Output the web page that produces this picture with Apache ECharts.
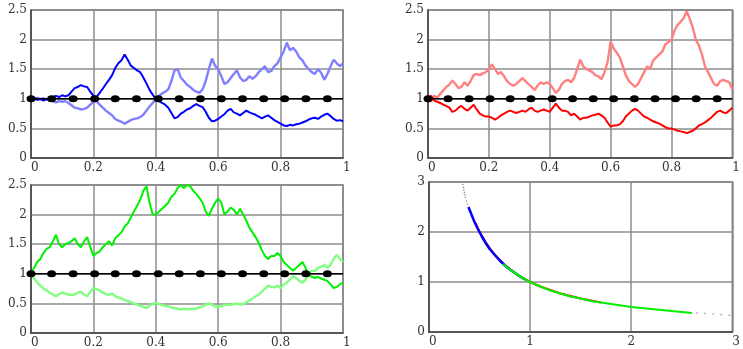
<!DOCTYPE html>
<html>
<head>
<meta charset="utf-8">
<script src="https://cdn.jsdelivr.net/npm/echarts@6/dist/echarts.min.js"></script>
<style>
  html, body { margin: 0; padding: 0; background: #fff; }
  #chart { width: 743px; height: 349px; }
</style>
</head>
<body>
<div id="chart"></div>
<script>
// Sample paths, one value per step of 0.01 on [0, 1]
const blueDark = [1.00,1.02,0.98,1.00,0.97,1.00,0.98,1.03,1.05,1.03,1.06,1.04,1.06,1.12,1.18,1.20,1.23,1.21,1.20,1.12,
  1.05,1.03,1.10,1.17,1.25,1.32,1.40,1.52,1.60,1.65,1.75,1.66,1.56,1.52,1.48,1.45,1.36,1.26,1.15,1.07,
  1.00,0.96,0.93,0.90,0.85,0.76,0.67,0.69,0.75,0.78,0.82,0.84,0.88,0.91,0.88,0.86,0.78,0.68,0.62,0.63,
  0.66,0.70,0.74,0.80,0.83,0.77,0.75,0.72,0.76,0.80,0.77,0.75,0.73,0.70,0.67,0.70,0.72,0.68,0.64,0.61,
  0.58,0.55,0.54,0.56,0.55,0.57,0.58,0.60,0.62,0.65,0.67,0.68,0.66,0.70,0.73,0.75,0.71,0.66,0.63,0.64,0.62];
const blueLight = [1.00,0.98,1.02,0.99,1.01,0.98,1.00,0.96,0.94,0.96,0.95,0.96,0.93,0.89,0.85,0.84,0.82,0.83,0.85,0.90,
  0.95,0.96,0.90,0.85,0.80,0.76,0.72,0.66,0.63,0.61,0.58,0.61,0.64,0.66,0.67,0.69,0.73,0.80,0.87,0.93,
  1.00,1.05,1.09,1.12,1.16,1.30,1.48,1.50,1.36,1.30,1.24,1.20,1.15,1.12,1.10,1.16,1.30,1.50,1.68,1.56,
  1.50,1.38,1.25,1.28,1.35,1.42,1.48,1.36,1.30,1.32,1.38,1.34,1.38,1.45,1.50,1.55,1.45,1.47,1.55,1.60,
  1.70,1.80,1.95,1.82,1.86,1.80,1.70,1.65,1.56,1.50,1.45,1.42,1.50,1.44,1.32,1.42,1.55,1.66,1.60,1.55,1.60];
const redLight = [1.00,0.95,1.05,1.02,1.08,1.14,1.20,1.24,1.31,1.25,1.18,1.20,1.28,1.22,1.30,1.40,1.42,1.40,1.43,1.45,
  1.50,1.58,1.50,1.42,1.45,1.38,1.30,1.25,1.22,1.25,1.30,1.35,1.30,1.25,1.20,1.15,1.22,1.28,1.25,1.28,
  1.25,1.18,1.10,1.15,1.25,1.30,1.32,1.28,1.35,1.50,1.66,1.55,1.50,1.48,1.45,1.40,1.38,1.33,1.45,1.62,
  1.97,1.85,1.78,1.70,1.55,1.40,1.30,1.25,1.20,1.25,1.35,1.45,1.55,1.50,1.65,1.70,1.75,1.80,1.92,1.96,
  2.00,2.15,2.25,2.30,2.36,2.48,2.35,2.20,2.00,1.90,1.75,1.55,1.45,1.35,1.25,1.22,1.30,1.32,1.30,1.28,1.15];
const redDark = [1.00,1.05,0.97,0.95,0.93,0.90,0.88,0.85,0.78,0.80,0.85,0.88,0.83,0.80,0.85,0.90,0.82,0.75,0.72,0.70,
  0.70,0.68,0.65,0.68,0.72,0.75,0.78,0.80,0.78,0.76,0.78,0.80,0.78,0.82,0.85,0.80,0.78,0.80,0.82,0.80,
  0.78,0.85,0.92,0.85,0.80,0.80,0.78,0.72,0.75,0.70,0.65,0.68,0.68,0.70,0.72,0.73,0.75,0.72,0.68,0.60,
  0.53,0.55,0.55,0.57,0.62,0.70,0.75,0.80,0.83,0.80,0.75,0.70,0.68,0.65,0.62,0.60,0.58,0.55,0.52,0.50,
  0.50,0.48,0.46,0.45,0.44,0.42,0.44,0.46,0.50,0.55,0.57,0.60,0.64,0.68,0.73,0.78,0.80,0.77,0.76,0.80,0.85];
const greenBright = [1.00,1.10,1.20,1.25,1.35,1.42,1.45,1.55,1.66,1.50,1.45,1.50,1.52,1.55,1.60,1.50,1.45,1.55,1.62,1.45,
  1.30,1.35,1.38,1.45,1.50,1.55,1.48,1.60,1.65,1.70,1.80,1.85,1.95,2.05,2.15,2.25,2.40,2.48,2.20,2.00,
  2.00,2.05,2.10,2.15,2.20,2.30,2.35,2.45,2.50,2.45,2.50,2.48,2.40,2.35,2.28,2.20,2.05,1.98,2.10,2.20,
  2.27,2.20,2.00,2.05,2.12,2.08,2.00,2.10,2.00,1.90,1.78,1.70,1.62,1.52,1.40,1.30,1.25,1.30,1.30,1.35,
  1.30,1.20,1.15,1.10,1.05,1.10,1.15,1.20,1.10,0.98,0.95,0.93,0.95,0.92,0.90,0.88,0.82,0.76,0.78,0.82,0.85];
const greenLight = [1.00,0.92,0.85,0.80,0.75,0.72,0.68,0.65,0.62,0.66,0.68,0.67,0.65,0.64,0.65,0.68,0.70,0.65,0.62,0.70,
  0.76,0.74,0.72,0.68,0.66,0.64,0.67,0.62,0.60,0.58,0.56,0.54,0.52,0.50,0.48,0.46,0.44,0.42,0.46,0.50,
  0.50,0.49,0.47,0.46,0.45,0.43,0.42,0.41,0.40,0.41,0.40,0.40,0.41,0.41,0.43,0.45,0.48,0.50,0.48,0.45,
  0.44,0.45,0.48,0.48,0.47,0.49,0.50,0.48,0.49,0.52,0.55,0.58,0.62,0.65,0.70,0.75,0.80,0.78,0.77,0.80,
  0.76,0.82,0.85,0.90,0.96,0.93,0.88,0.85,0.90,1.00,1.05,1.05,1.10,1.12,1.15,1.10,1.15,1.25,1.32,1.25,1.20];

// Reference level and its marker positions
const levelValue = 1;
const markerX = [0,0.066,0.135,0.204,0.27,0.338,0.408,0.475,0.543,0.61,0.678,0.746,0.813,0.881,0.95];

// Phase-plane curve pieces (x, y pairs)
const curveBlueX = [0.39,0.42,0.45,0.48,0.52,0.56,0.60,0.65,0.70,0.75,0.80,0.85,0.90,0.95];
const curveBlueY = [2.50,2.35,2.20,2.07,1.92,1.78,1.66,1.54,1.43,1.33,1.25,1.18,1.11,1.05];
const curveRedX = [0.46,0.50,0.55,0.60,0.65,0.70,0.75,0.80,0.90,1.00,1.10,1.20,1.30,1.40,1.50,1.60,1.70];
const curveRedY = [2.18,2.01,1.83,1.68,1.55,1.44,1.34,1.26,1.11,1.00,0.91,0.84,0.77,0.72,0.67,0.63,0.59];
const curveGreenX = [0.73,0.80,0.90,1.00,1.10,1.20,1.30,1.40,1.50,1.60,1.80,2.00,2.20,2.40,2.60];
const curveGreenY = [1.36,1.25,1.11,1.00,0.91,0.83,0.77,0.71,0.67,0.62,0.56,0.50,0.46,0.42,0.38];
const tailX = [0.335,0.34,0.345,0.35,0.355,0.36,0.37,0.38,2.65,2.73,2.81,2.89,2.97];
const tailY = [2.95,2.89,2.84,2.79,2.74,2.69,2.62,2.56,0.38,0.37,0.36,0.345,0.335];

// Axis ticks
const pathTicks = { min: 0, max: 1, step: 0.2 };
const levelTicks = { min: 0, max: 2.5, step: 0.5 };
const phaseTicks = { min: 0, max: 3, step: 1 };

const STEP = 0.01;
const asPath = vals => vals.map((v, i) => [+(i * STEP).toFixed(2), v]);
const asPairs = (xs, ys) => xs.map((x, i) => [x, ys[i]]);

const labelStyle = { fontFamily: 'DejaVu Serif', fontSize: 12, color: '#333' };

function xAxisFor(idx, ticks) {
  return {
    type: 'value', gridIndex: idx, min: ticks.min, max: ticks.max, interval: ticks.step,
    axisLine: { show: true, lineStyle: { color: '#444', width: 1.5 } },
    axisTick: { show: false },
    splitLine: { show: true, lineStyle: { color: '#8c8c8c', width: 1.5 } },
    axisLabel: Object.assign({ margin: 4, alignMinLabel: 'left', alignMaxLabel: 'left' }, labelStyle)
  };
}
function yAxisFor(idx, ticks) {
  return {
    type: 'value', gridIndex: idx, min: ticks.min, max: ticks.max, interval: ticks.step,
    axisLine: { show: true, lineStyle: { color: '#444', width: 1.5 } },
    axisTick: { show: false },
    splitLine: { show: true, lineStyle: { color: '#8c8c8c', width: 1.5 } },
    axisLabel: Object.assign({ margin: 4 }, labelStyle)
  };
}

function pathSeries(idx, vals, color, width, z) {
  return {
    type: 'line', xAxisIndex: idx, yAxisIndex: idx, data: asPath(vals),
    showSymbol: false, symbol: 'none', z: z,
    lineStyle: { color: color, width: width }
  };
}
function levelSeries(idx) {
  return [
    {
      type: 'line', xAxisIndex: idx, yAxisIndex: idx, z: 5,
      data: [[pathTicks.min, levelValue], [pathTicks.max, levelValue]],
      symbol: 'none', lineStyle: { color: '#000', width: 1.5 }
    },
    {
      type: 'scatter', xAxisIndex: idx, yAxisIndex: idx, z: 6,
      data: markerX.map(x => [x, levelValue]),
      symbol: 'circle', symbolSize: [9, 7], itemStyle: { color: '#000', opacity: 1 }
    }
  ];
}
function curveSeries(xs, ys, color, width, z) {
  return {
    type: 'line', xAxisIndex: 3, yAxisIndex: 3, data: asPairs(xs, ys),
    symbol: 'none', z: z, lineStyle: { color: color, width: width }
  };
}

const gridBase = { show: true, borderColor: '#6a6a6a', borderWidth: 1.5, backgroundColor: '#fff' };

const option = {
  animation: false,
  backgroundColor: '#fff',
  grid: [
    Object.assign({ left: 31, top: 10, width: 312, height: 148 }, gridBase),
    Object.assign({ left: 428, top: 10, width: 312, height: 148 }, gridBase),
    Object.assign({ left: 31, top: 185, width: 312, height: 148 }, gridBase),
    Object.assign({ left: 429, top: 182, width: 311, height: 150 }, gridBase)
  ],
  xAxis: [xAxisFor(0, pathTicks), xAxisFor(1, pathTicks), xAxisFor(2, pathTicks), xAxisFor(3, phaseTicks)],
  yAxis: [yAxisFor(0, levelTicks), yAxisFor(1, levelTicks), yAxisFor(2, levelTicks), yAxisFor(3, phaseTicks)],
  series: [
    pathSeries(0, blueLight, '#8080ff', 2.4, 2),
    pathSeries(0, blueDark, '#0000ff', 2, 3),
    ...levelSeries(0),
    pathSeries(1, redLight, '#ff8080', 2.4, 2),
    pathSeries(1, redDark, '#ff0000', 2, 3),
    ...levelSeries(1),
    pathSeries(2, greenLight, '#80ff80', 2.4, 2),
    pathSeries(2, greenBright, '#00f000', 2, 3),
    ...levelSeries(2),
    curveSeries(curveRedX, curveRedY, '#ff0000', 2, 2),
    curveSeries(curveBlueX, curveBlueY, '#0000ff', 2.5, 3),
    curveSeries(curveGreenX, curveGreenY, '#00f000', 2.2, 4),
    {
      type: 'scatter', xAxisIndex: 3, yAxisIndex: 3, z: 4,
      data: asPairs(tailX, tailY), symbol: 'circle', symbolSize: 1.6,
      itemStyle: { color: '#8a8a8a', opacity: 1 }
    }
  ]
};

const chart = echarts.init(document.getElementById('chart'), null, { renderer: 'canvas' });
chart.setOption(option);
</script>
</body>
</html>
